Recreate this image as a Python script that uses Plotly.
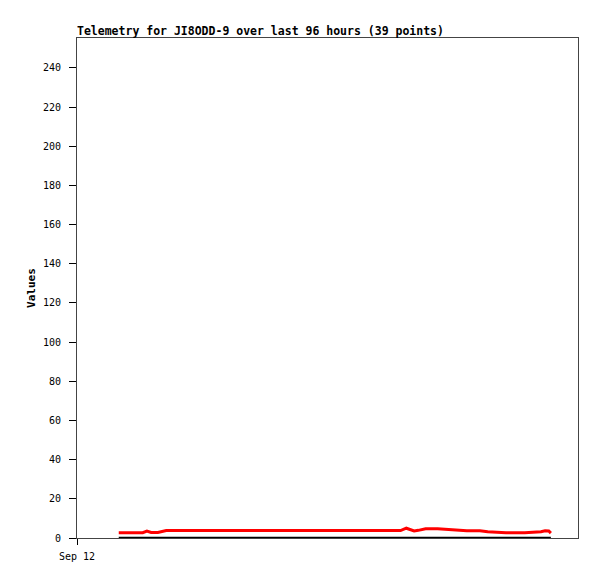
import plotly.graph_objects as go
from datetime import datetime, timedelta

title_text = "Telemetry for JI8ODD-9 over last 96 hours (39 points)"
start = datetime(2024, 9, 12, 0, 0)
# hours since start for each of the 39 telemetry points
hours = [8.0, 10.3, 12.6, 13.4, 14.2, 15.5, 16.3, 17.1,
         19.4, 22.2, 25.1, 28.0, 30.9, 33.8, 36.6, 39.5, 42.4, 45.3, 48.1, 51.0, 53.9, 56.8, 59.6,
         62.0, 63.1, 64.6, 65.4, 66.8, 69.1, 71.2, 74.7, 77.2, 78.7, 82.2, 85.8, 88.9, 89.7, 90.4, 90.8]
red_vals = [2.7, 2.7, 2.7, 3.5, 2.8, 2.8, 3.4, 3.8,
            3.8, 3.8, 3.8, 3.8, 3.8, 3.8, 3.8, 3.8, 3.8, 3.8, 3.8, 3.8, 3.8, 3.8, 3.8,
            3.8, 5.0, 3.6, 3.9, 4.7, 4.7, 4.2, 3.7, 3.7, 3.2, 2.7, 2.7, 3.2, 3.7, 3.6, 2.5]
black_vals = [0] * 39
y_ticks = list(range(0, 260, 20))

times = [start + timedelta(hours=h) for h in hours]

fig = go.Figure()
fig.add_trace(go.Scatter(x=times, y=black_vals, mode="lines",
                         line=dict(color="black", width=2.5), showlegend=False))
fig.add_trace(go.Scatter(x=times, y=red_vals, mode="lines",
                         line=dict(color="red", width=3), showlegend=False))

mono = "DejaVu Sans Mono"
W, H = 589, 571
fig.update_layout(
    width=W, height=H,
    margin=dict(l=69, r=19, t=30, b=41),
    paper_bgcolor="white", plot_bgcolor="white",
    title=dict(text="<b>" + title_text + "</b>", x=69/W, xanchor="left",
               y=1 - 23/H, yanchor="middle",
               font=dict(family=mono, size=11.5, color="black")),
    showlegend=False,
)
fig.update_xaxes(
    type="date",
    range=[start, start + timedelta(hours=96)],
    tickvals=[start], ticktext=["Sep 12"],
    ticks="outside", ticklen=6, tickcolor="black",
    ticklabelstandoff=3,
    showline=True, linecolor="#444", linewidth=1, mirror=True,
    showgrid=False, zeroline=False,
    tickfont=dict(family=mono, size=10, color="black"),
)
fig.update_yaxes(
    range=[0, 255.3],
    tickvals=y_ticks,
    ticks="outside", ticklen=7, tickcolor="black",
    ticklabelstandoff=6,
    showline=True, linecolor="#444", linewidth=1, mirror=True,
    showgrid=False, zeroline=False,
    tickfont=dict(family=mono, size=10, color="black"),
    title=dict(text="<b>Values</b>", font=dict(family=mono, size=11, color="black"), standoff=5),
)
fig.write_html("out.html")
